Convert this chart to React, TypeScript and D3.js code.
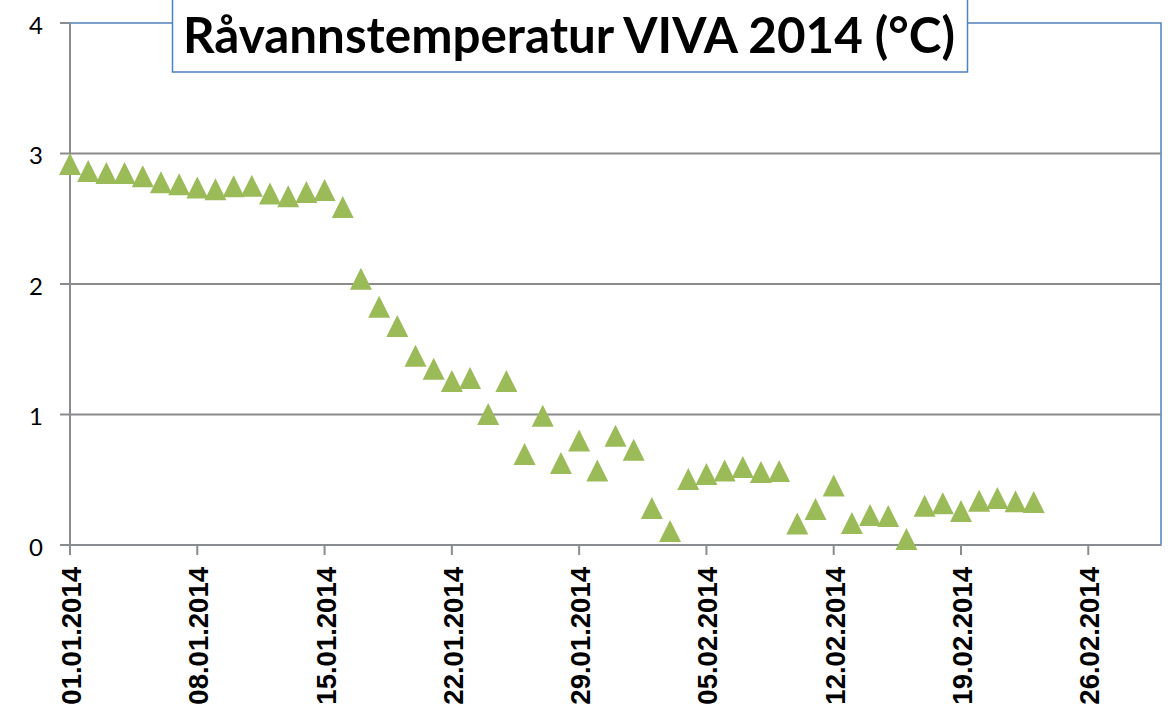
import React from "react";
import * as d3 from "d3";

const dates: string[] = [
  "2014-01-01","2014-01-02","2014-01-03","2014-01-04","2014-01-05","2014-01-06","2014-01-07",
  "2014-01-08","2014-01-09","2014-01-10","2014-01-11","2014-01-12","2014-01-13","2014-01-14",
  "2014-01-15","2014-01-16","2014-01-17","2014-01-18","2014-01-19","2014-01-20","2014-01-21",
  "2014-01-22","2014-01-23","2014-01-24","2014-01-25","2014-01-26","2014-01-27","2014-01-28",
  "2014-01-29","2014-01-30","2014-01-31","2014-02-01","2014-02-02","2014-02-03","2014-02-04",
  "2014-02-05","2014-02-06","2014-02-07","2014-02-08","2014-02-09","2014-02-10","2014-02-11",
  "2014-02-12","2014-02-13","2014-02-14","2014-02-15","2014-02-16","2014-02-17","2014-02-18",
  "2014-02-19","2014-02-20","2014-02-21","2014-02-22","2014-02-23",
];

const temperatures: number[] = [
  2.92, 2.865, 2.85, 2.85, 2.825, 2.78, 2.765,
  2.74, 2.727, 2.75, 2.752, 2.694, 2.672, 2.705,
  2.72, 2.59, 2.04, 1.826, 1.678, 1.45, 1.35,
  1.257, 1.28, 1.003, 1.257, 0.697, 0.99, 0.628,
  0.8, 0.57, 0.837, 0.73, 0.284, 0.107, 0.506,
  0.545, 0.571, 0.598, 0.56, 0.567, 0.165, 0.276,
  0.456, 0.169, 0.23, 0.222, 0.046, 0.3, 0.32,
  0.26, 0.34, 0.36, 0.335, 0.33,
];

const xTickDates: string[] = [
  "2014-01-01","2014-01-08","2014-01-15","2014-01-22","2014-01-29",
  "2014-02-05","2014-02-12","2014-02-19","2014-02-26",
];
const yTicks: number[] = [0, 1, 2, 3, 4];
const xDomain: string[] = ["2014-01-01", "2014-03-02"];
const title = "Råvannstemperatur VIVA 2014 (°C)";

const parse = d3.utcParse("%Y-%m-%d");
const fmt = d3.utcFormat("%d.%m.%Y");

export default function App() {
  const W = 1171, H = 710;
  const left = 70, right = 1161, top = 23, bottom = 545;
  const x = d3.scaleUtc().domain(xDomain.map((d) => parse(d) as Date)).range([left, right]);
  const y = d3.scaleLinear().domain([0, 4]).range([bottom, top]);
  const axisColor = "#898c91";
  const gridColor = "#8a8a8a";
  const blue = "#4f81bd";
  const green = "#9bbb59";
  const half = 11;

  const tri = (cx: number, cy: number) => {
    const p = d3.path();
    p.moveTo(cx, cy - half);
    p.lineTo(cx + half, cy + half);
    p.lineTo(cx - half, cy + half);
    p.closePath();
    return p.toString();
  };

  return (
    <svg width={W} height={H} style={{ position: "absolute", left: 0, top: 0, background: "#fff" }}>
      <rect x={0} y={0} width={W} height={H} fill="#fff" />
      <rect x={left} y={top} width={right - left} height={bottom - top} fill="none" stroke={blue} strokeWidth={1.5} />
      {yTicks.filter((t) => t > 0 && t < 4).map((t) => (
        <line key={"g" + t} x1={left} x2={right} y1={y(t)} y2={y(t)} stroke={gridColor} strokeWidth={1.8} />
      ))}
      <line x1={left} x2={left} y1={top} y2={bottom} stroke={axisColor} strokeWidth={2} />
      {yTicks.map((t) => (
        <g key={"y" + t}>
          <line x1={left - 10} x2={left} y1={y(t)} y2={y(t)} stroke={axisColor} strokeWidth={2} />
          <text x={43} y={y(t) + 1} textAnchor="end" dominantBaseline="central" fontFamily="Lato, 'Open Sans', sans-serif" fontSize={24} fill="#000">
            {t}
          </text>
        </g>
      ))}
      <line x1={left} x2={right} y1={bottom} y2={bottom} stroke={axisColor} strokeWidth={2.2} />
      {xTickDates.map((d) => {
        const xd = x(parse(d) as Date);
        return (
          <g key={"x" + d}>
            <line x1={xd} x2={xd} y1={bottom} y2={bottom + 10} stroke={axisColor} strokeWidth={2} />
            <text
              transform={`translate(${xd + 11},${567}) rotate(-90)`}
              textAnchor="end"
              fontFamily="'Liberation Sans', Arial, sans-serif"
              fontWeight="bold"
              fontSize={27.5}
              fill="#000"
            >
              {fmt(parse(d) as Date)}
            </text>
          </g>
        );
      })}
      {dates.map((d, i) => (
        <path key={"m" + i} d={tri(x(parse(d) as Date), y(temperatures[i]))} fill={green} />
      ))}
      <rect x={172.5} y={-5} width={795} height={77} fill="#fff" stroke={blue} strokeWidth={1.5} />
      <text
        x={183}
        y={53}
        fontFamily="Lato, 'Open Sans', sans-serif"
        fontWeight="bold"
        fontSize={49}
        textLength={772}
        lengthAdjust="spacingAndGlyphs"
        fill="#000"
      >
        {title}
      </text>
    </svg>
  );
}
